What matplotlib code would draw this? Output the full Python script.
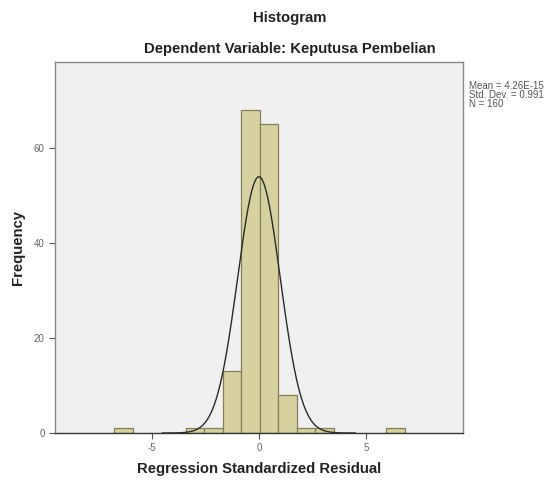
"""
SPSS-style histogram of regression standardized residuals.
"""

import matplotlib.pyplot as plt
import numpy as np

# Data
bin_centers = [-6.3, -2.98, -2.12, -1.26, -0.40, 0.46, 1.33, 2.19, 3.05, 6.35]
counts = [1, 1, 1, 13, 68, 65, 8, 1, 1, 1]
bin_width = 0.8625

mean = 4.26e-15
std_dev = 0.991
n_obs = 160

x_ticks = [-5, 0, 5]
y_ticks = [0, 20, 40, 60]

plt.rcParams["font.family"] = ["Liberation Sans", "DejaVu Sans"]
plt.rcParams["axes.unicode_minus"] = False

fig = plt.figure(figsize=(5.53, 4.83), dpi=100)
ax = fig.add_axes([0.0995, 0.1035, 0.7375, 0.768])
ax.set_facecolor("#f0f0f0")

ax.bar(bin_centers, counts, width=bin_width, color="#d6d19f",
       edgecolor="#858058", linewidth=0.9, zorder=2)

# Normal curve scaled to counts
xs = np.linspace(-4.5, 4.5, 400)
pdf = np.exp(-0.5 * ((xs - mean) / std_dev) ** 2) / (std_dev * np.sqrt(2 * np.pi))
ax.plot(xs, pdf * n_obs * bin_width * 0.97, color="#2b2b2b", linewidth=1.0, zorder=3)

ax.set_xlim(-9.5, 9.5)
ax.set_ylim(0, 78)
ax.set_xticks(x_ticks)
ax.set_yticks(y_ticks)
ax.tick_params(axis="both", direction="out", length=4, width=0.8,
               color="#555555", labelsize=7, labelcolor="#666666")

for side in ["top", "right", "left"]:
    ax.spines[side].set_color("#888888")
    ax.spines[side].set_linewidth(1.0)
ax.spines["bottom"].set_color("#333333")
ax.spines["bottom"].set_linewidth(1.0)

ax.set_xlabel("Regression Standardized Residual", fontsize=10.7, fontweight="bold",
              color="#222222", labelpad=6)
ax.set_ylabel("Frequency", fontsize=10.7, fontweight="bold", color="#222222", labelpad=6)

fig.text(0.524, 0.962, "Histogram", ha="center", va="center",
         fontsize=10.7, fontweight="bold", color="#222222")
fig.text(0.524, 0.898, "Dependent Variable: Keputusa Pembelian", ha="center", va="center",
         fontsize=10.7, fontweight="bold", color="#222222")

stats = f"Mean = 4.26E-15\nStd. Dev. = {std_dev:.3f}\nN = {n_obs}"
fig.text(0.848, 0.803, stats, ha="left", va="center", fontsize=7,
         color="#555555", linespacing=0.9)

plt.savefig("out.png", dpi=100)
plt.close()
